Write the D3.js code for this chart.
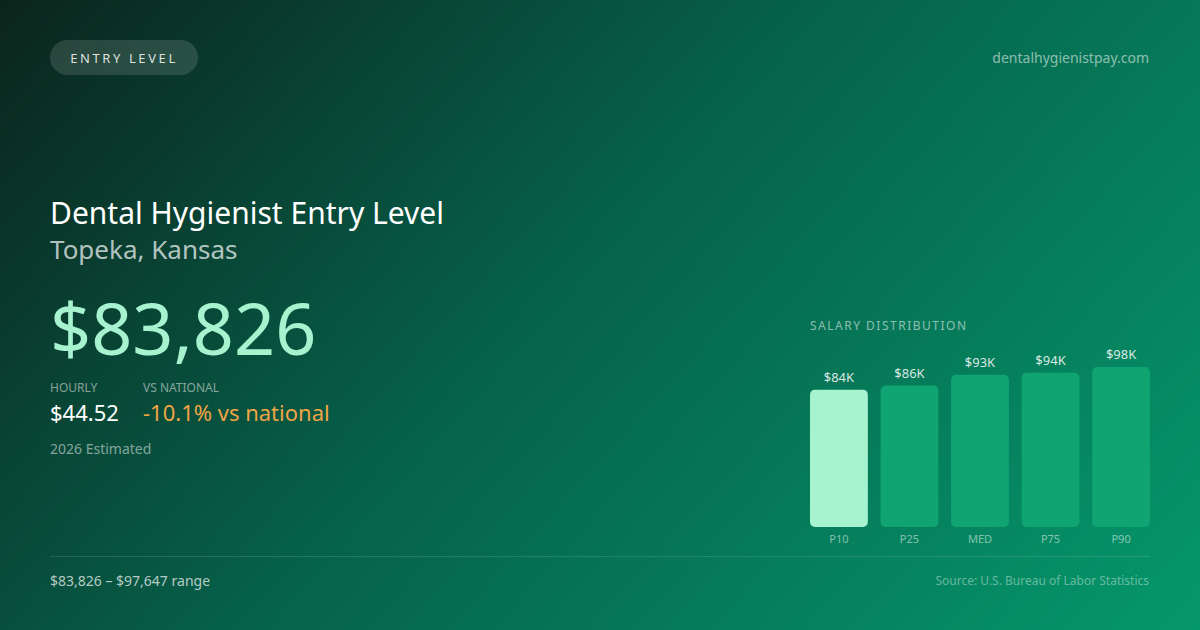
<!DOCTYPE html>
<html>
<head>
<meta charset="utf-8">
<script src="https://cdn.jsdelivr.net/npm/d3@7"></script>
<style>
  html, body { margin: 0; padding: 0; background: #0a2a20; }
  svg { display: block; font-family: "Noto Sans", "Open Sans", sans-serif; }
</style>
</head>
<body>
<div id="chart"></div>
<script>
var svgWidth = 1200;
var svgHeight = 630;

// Salary distribution (annual, USD)
var percentiles = ["P10", "P25", "MED", "P75", "P90"];
var salaries = [83826, 86300, 92900, 94100, 97647];
var valueLabels = ["$84K", "$86K", "$93K", "$94K", "$98K"];

var svg = d3.select("#chart").append("svg")
  .attr("width", svgWidth)
  .attr("height", svgHeight);

// Background gradient
var defs = svg.append("defs");
var bg = defs.append("linearGradient")
  .attr("id", "bg")
  .attr("gradientUnits", "userSpaceOnUse")
  .attr("x1", 0).attr("y1", 0)
  .attr("x2", 1000).attr("y2", 900);
bg.append("stop").attr("offset", "0%").attr("stop-color", "#0b241c");
bg.append("stop").attr("offset", "45%").attr("stop-color", "#06624b");
bg.append("stop").attr("offset", "100%").attr("stop-color", "#059a6c");

svg.append("rect")
  .attr("width", svgWidth)
  .attr("height", svgHeight)
  .attr("fill", "url(#bg)");

// Badge
svg.append("rect")
  .attr("x", 50).attr("y", 40)
  .attr("width", 148).attr("height", 35)
  .attr("rx", 17.5)
  .attr("fill", "rgba(255,255,255,0.13)");

svg.append("text")
  .attr("x", 124).attr("y", 63)
  .attr("text-anchor", "middle")
  .attr("font-size", 13)
  .attr("letter-spacing", "2.6px")
  .attr("fill", "rgba(255,255,255,0.85)")
  .text("ENTRY LEVEL");

svg.append("text")
  .attr("x", 1149).attr("y", 63)
  .attr("text-anchor", "end")
  .attr("font-size", 14)
  .attr("fill", "rgba(255,255,255,0.55)")
  .text("dentalhygienistpay.com");

// Headline block
svg.append("text")
  .attr("x", 50).attr("y", 224)
  .attr("font-size", 30)
  .attr("fill", "#ffffff")
  .text("Dental Hygienist Entry Level");

svg.append("text")
  .attr("x", 50).attr("y", 259)
  .attr("font-size", 26)
  .attr("fill", "rgba(255,255,255,0.7)")
  .text("Topeka, Kansas");

svg.append("text")
  .attr("x", 50).attr("y", 355)
  .attr("font-size", 72)
  .attr("fill", "#a7f3d0")
  .text("$83,826");

svg.append("text")
  .attr("x", 50).attr("y", 392)
  .attr("font-size", 12)
  .attr("fill", "rgba(255,255,255,0.5)")
  .text("HOURLY");

svg.append("text")
  .attr("x", 143).attr("y", 392)
  .attr("font-size", 12)
  .attr("fill", "rgba(255,255,255,0.5)")
  .text("VS NATIONAL");

svg.append("text")
  .attr("x", 50).attr("y", 421)
  .attr("font-size", 22)
  .attr("fill", "#ffffff")
  .text("$44.52");

svg.append("text")
  .attr("x", 143).attr("y", 421)
  .attr("font-size", 22)
  .attr("fill", "#f0a445")
  .text("-10.1% vs national");

svg.append("text")
  .attr("x", 50).attr("y", 454)
  .attr("font-size", 14)
  .attr("fill", "rgba(255,255,255,0.5)")
  .text("2026 Estimated");

// Salary distribution chart
svg.append("text")
  .attr("x", 810).attr("y", 330)
  .attr("font-size", 12)
  .attr("letter-spacing", "1.5px")
  .attr("fill", "rgba(255,255,255,0.55)")
  .text("SALARY DISTRIBUTION");

var chartBottom = 527;

var xBand = d3.scaleBand()
  .domain(percentiles)
  .range([810, 1150])
  .paddingInner(0.18)
  .paddingOuter(0);

var yHeight = d3.scaleLinear()
  .domain([0, d3.max(salaries)])
  .range([0, 160]);

var bars = svg.append("g").selectAll("g")
  .data(percentiles)
  .enter()
  .append("g");

bars.append("rect")
  .attr("x", d => xBand(d))
  .attr("y", (d, i) => chartBottom - yHeight(salaries[i]))
  .attr("width", xBand.bandwidth())
  .attr("height", (d, i) => yHeight(salaries[i]))
  .attr("rx", 5)
  .attr("fill", (d, i) => i === 0 ? "#a7f3d0" : "#0fa472");

bars.append("text")
  .attr("x", d => xBand(d) + xBand.bandwidth() / 2)
  .attr("y", (d, i) => chartBottom - yHeight(salaries[i]) - 8)
  .attr("text-anchor", "middle")
  .attr("font-size", 13)
  .attr("fill", "rgba(255,255,255,0.85)")
  .text((d, i) => valueLabels[i]);

bars.append("text")
  .attr("x", d => xBand(d) + xBand.bandwidth() / 2)
  .attr("y", 543)
  .attr("text-anchor", "middle")
  .attr("font-size", 11)
  .attr("fill", "rgba(255,255,255,0.5)")
  .text(d => d);

// Footer
svg.append("line")
  .attr("x1", 50).attr("x2", 1150)
  .attr("y1", 556.5).attr("y2", 556.5)
  .attr("stroke", "rgba(255,255,255,0.12)");

svg.append("text")
  .attr("x", 50).attr("y", 586)
  .attr("font-size", 14)
  .attr("fill", "rgba(255,255,255,0.7)")
  .text("$83,826 \u2013 $97,647 range");

svg.append("text")
  .attr("x", 1149).attr("y", 585)
  .attr("text-anchor", "end")
  .attr("font-size", 12)
  .attr("fill", "rgba(255,255,255,0.4)")
  .text("Source: U.S. Bureau of Labor Statistics");
</script>
</body>
</html>
